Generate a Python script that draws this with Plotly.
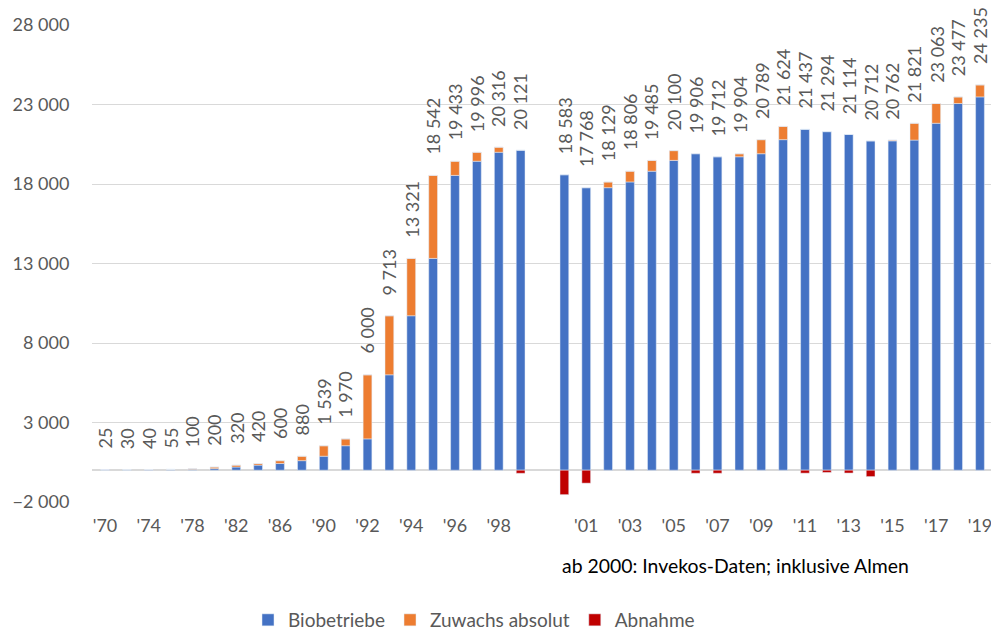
import plotly.graph_objects as go

years = ["'70", "'72", "'74", "'76", "'78", "'80", "'82", "'84", "'86", "'88",
         "'90", "'91", "'92", "'93", "'94", "'95", "'96", "'97", "'98", "'99",
         " ",
         "'00", "'01", "'02", "'03", "'04", "'05", "'06", "'07", "'08", "'09",
         "'10", "'11", "'12", "'13", "'14", "'15", "'16", "'17", "'18", "'19"]

totals = [25, 30, 40, 55, 100, 200, 320, 420, 600, 880,
          1539, 1970, 6000, 9713, 13321, 18542, 19433, 19996, 20316, 20121,
          None,
          18583, 17768, 18129, 18806, 19485, 20100, 19906, 19712, 19904, 20789,
          21624, 21437, 21294, 21114, 20712, 20762, 21821, 23063, 23477, 24235]

biobetriebe = [25, 25, 30, 40, 55, 100, 200, 320, 420, 600,
               880, 1539, 1970, 6000, 9713, 13321, 18542, 19433, 19996, 20121,
               None,
               18583, 17768, 17768, 18129, 18806, 19485, 19906, 19712, 19712, 19904,
               20789, 21437, 21294, 21114, 20712, 20712, 20762, 21821, 23063, 23477]

zuwachs = [0, 5, 10, 15, 45, 100, 120, 100, 180, 280,
           659, 431, 4030, 3713, 3608, 5221, 891, 563, 320, 0,
           None,
           0, 0, 361, 677, 679, 615, 0, 0, 192, 885,
           835, 0, 0, 0, 0, 50, 1059, 1242, 414, 758]

abnahme = [0, 0, 0, 0, 0, 0, 0, 0, 0, 0,
           0, 0, 0, 0, 0, 0, 0, 0, 0, -195,
           None,
           -1538, -815, 0, 0, 0, 0, -194, -194, 0, 0,
           0, -187, -143, -180, -402, 0, 0, 0, 0, 0]

note = "ab 2000: Invekos-Daten; inklusive Almen"

FONT = "Lato"
GRAY = "#595959"
W, H = 991, 622          # page has an 8px body margin
L, R, T, B = 84, 6, 17, 128
PW, PH = W - L - R, H - T - B

fig = go.Figure()
fig.add_trace(go.Bar(x=years, y=biobetriebe, name="Biobetriebe", marker_color="#4472C4"))
fig.add_trace(go.Bar(x=years, y=zuwachs, name="Zuwachs absolut", marker_color="#ED7D31"))
fig.add_trace(go.Bar(x=years, y=abnahme, name="Abnahme", marker_color="#C00000"))

annotations = []
for x, t in zip(years, totals):
    if t is None:
        continue
    label = f"{t:,}".replace(",", " ")
    length = sum(10.4 if c.isdigit() else 3.8 for c in label)
    annotations.append(dict(
        x=x, y=t, xref="x", yref="y", text=label,
        textangle=-90, showarrow=False, xanchor="center", yanchor="middle",
        yshift=21 + length / 2, font=dict(family=FONT, size=18, color=GRAY)))

annotations.append(dict(
    x=(735 - 92) / PW, y=-(565 - 502) / PH, xref="paper", yref="paper",
    text=note, showarrow=False, xanchor="center", yanchor="middle",
    font=dict(family=FONT, size=19.4, color="#000000")))

fig.update_layout(
    width=W, height=H,
    margin=dict(l=L, r=R, t=T, b=B, autoexpand=False),
    paper_bgcolor="white", plot_bgcolor="white",
    barmode="relative", bargap=0.6,
    separators=", ",
    font=dict(family=FONT, size=18, color=GRAY),
    showlegend=True,
    legend=dict(orientation="h", xref="container", yref="container",
                x=240 / W, xanchor="left", y=10 / H, yanchor="middle",
                font=dict(family=FONT, size=19, color=GRAY), traceorder="normal"),
    annotations=annotations,
)

fig.update_xaxes(type="category", categoryorder="array", categoryarray=years,
                 tickmode="array", tickvals=years[::2], automargin=False,
                 showgrid=False, showline=False, ticks="outside", ticklen=7,
                 tickcolor="rgba(0,0,0,0)", tickfont=dict(family=FONT, size=18, color=GRAY))
fig.update_yaxes(range=[-2000, 28000], tick0=-2000, dtick=5000, tickformat=",d",
                 automargin=False,
                 showgrid=True, gridcolor="#D9D9D9", gridwidth=1,
                 zeroline=True, zerolinecolor="#D9D9D9", zerolinewidth=2,
                 showline=False, ticks="outside", ticklen=18, tickcolor="rgba(0,0,0,0)",
                 tickfont=dict(family=FONT, size=18, color=GRAY))

fig.write_html("out.html")
